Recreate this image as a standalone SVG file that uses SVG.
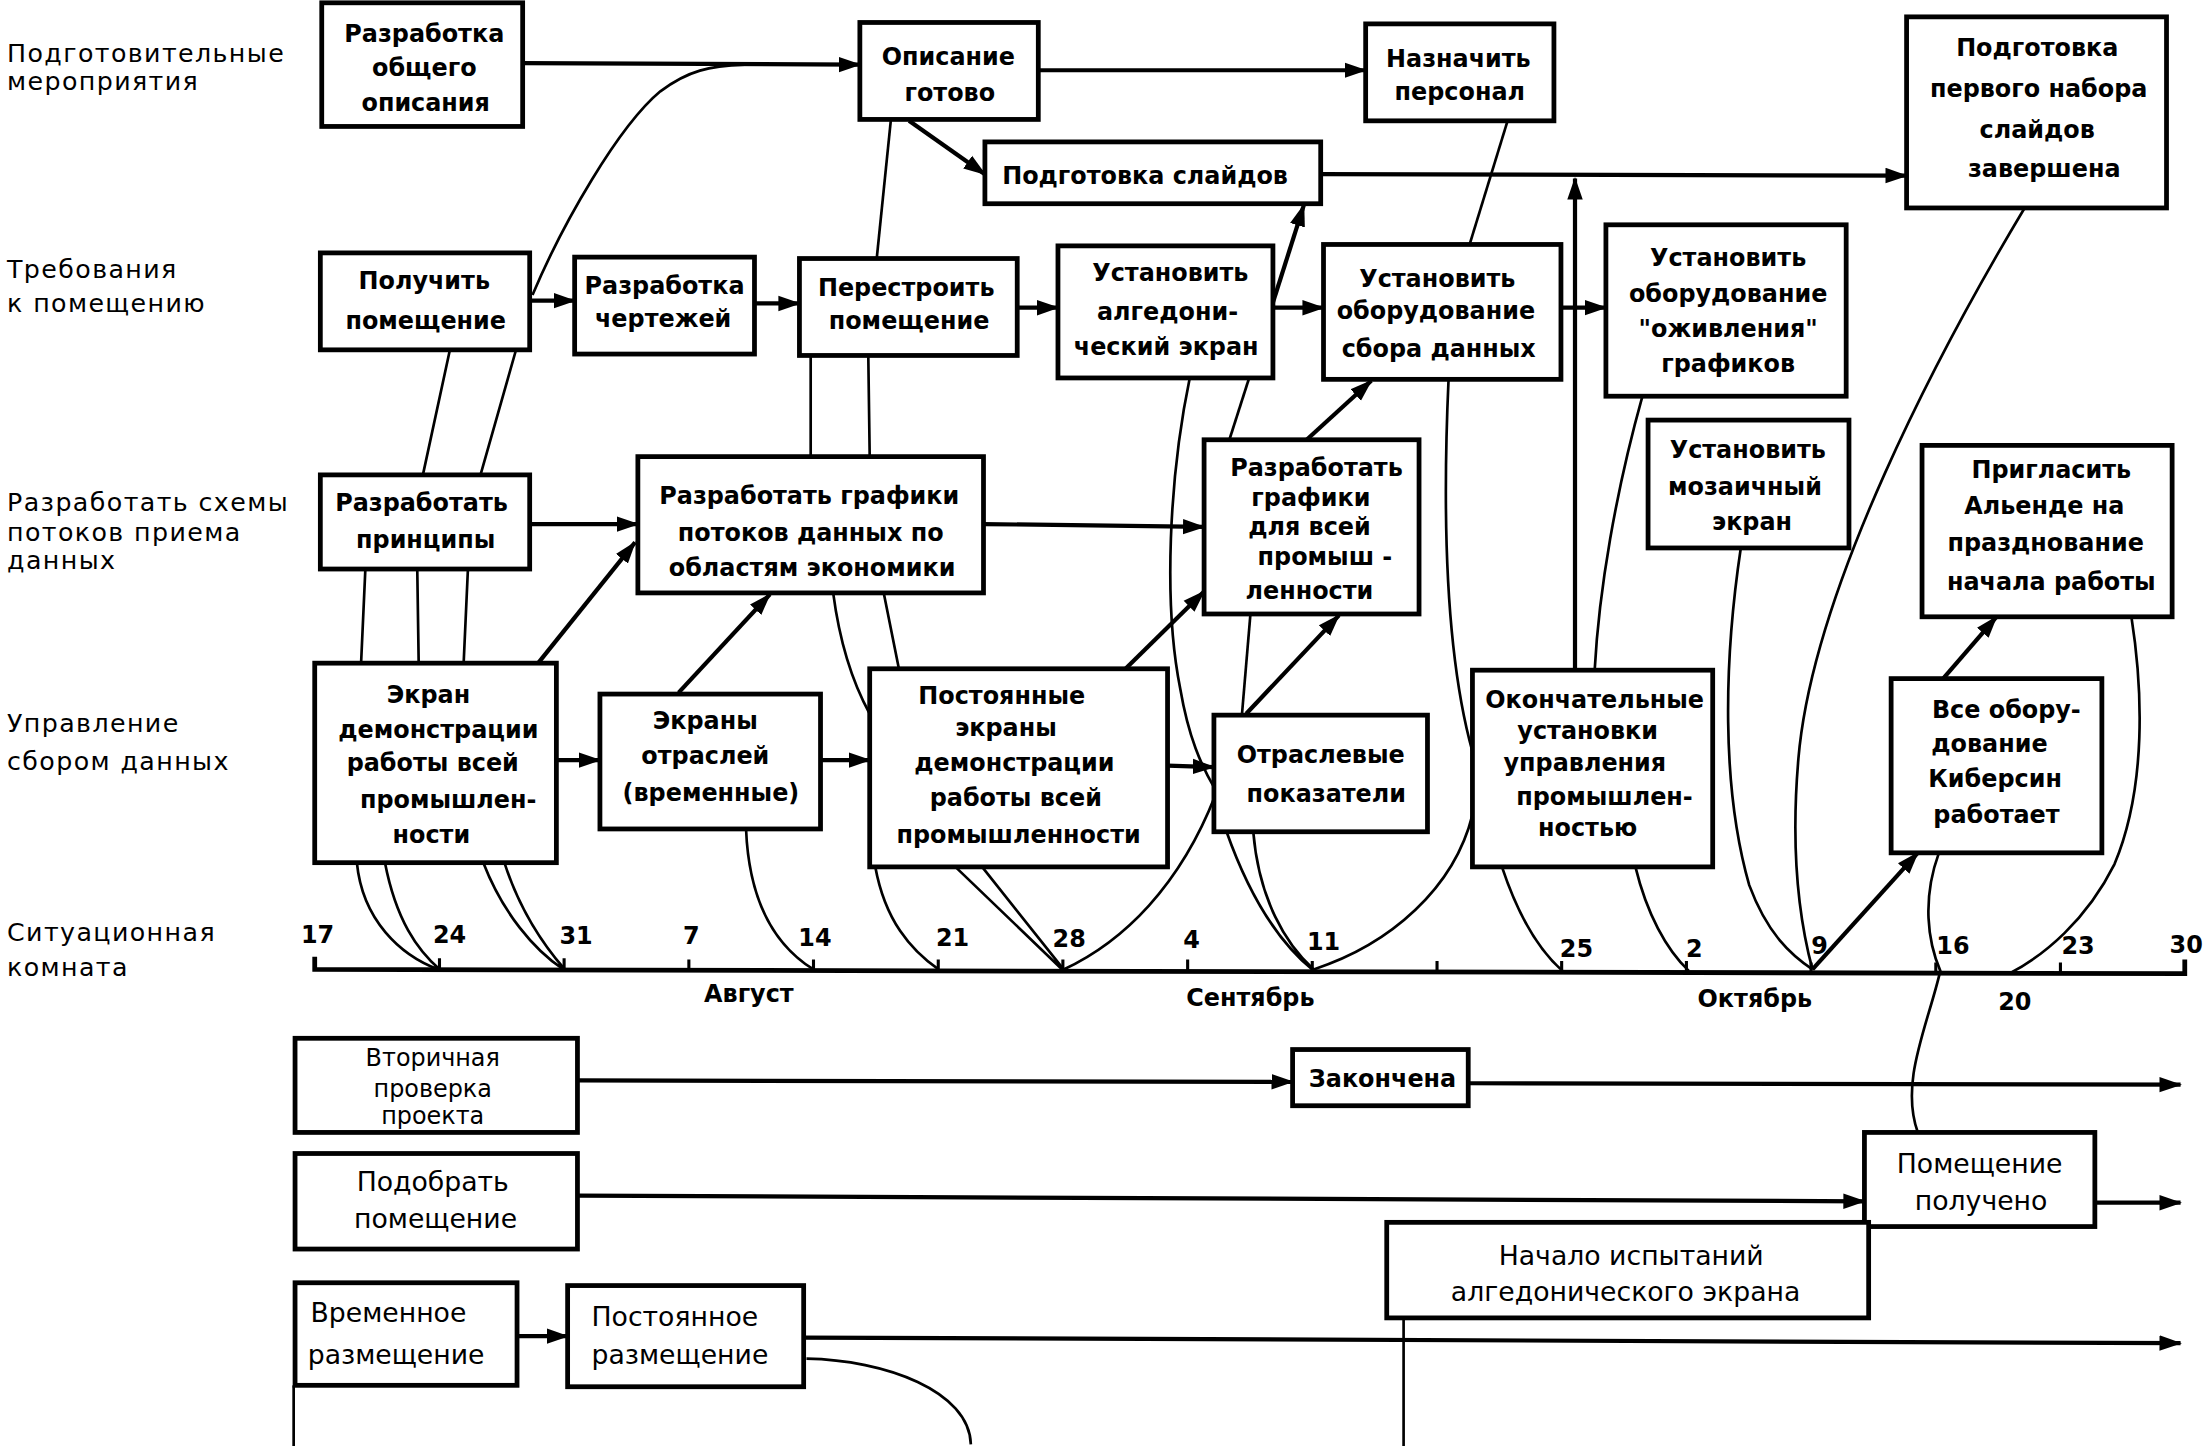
<svg xmlns="http://www.w3.org/2000/svg" width="2203" height="1446" viewBox="0 0 2203 1446">
<defs>
<style>
.bx{fill:#fff;stroke:#000;stroke-width:3.4}
.t{font-family:"DejaVu Sans","Liberation Sans",sans-serif;font-weight:bold;font-size:17px;text-anchor:middle;fill:#000}
.tn{font-family:"DejaVu Sans","Liberation Sans",sans-serif;font-size:19px;text-anchor:middle;fill:#000}
.tv{font-family:"DejaVu Sans","Liberation Sans",sans-serif;font-size:17px;text-anchor:middle;fill:#000}
.ts{font-family:"DejaVu Sans","Liberation Sans",sans-serif;font-size:19px;fill:#000}
.lab{font-family:"DejaVu Sans","Liberation Sans",sans-serif;font-size:18px;letter-spacing:1px;fill:#000}
.num{font-family:"DejaVu Sans","Liberation Sans",sans-serif;font-weight:bold;font-size:17px;text-anchor:middle;fill:#000}
.a{fill:none;stroke:#000;stroke-width:3;marker-end:url(#ah)}
.l{fill:none;stroke:#000;stroke-width:1.9}
.ax{fill:none;stroke:#000;stroke-width:3.4}
.tk{stroke:#000;stroke-width:2.2}
</style>
<marker id="ah" markerUnits="userSpaceOnUse" markerWidth="16" markerHeight="12" refX="15" refY="6" orient="auto"><path d="M0,0.5 L16,6 L0,11.5 z" fill="#000"/></marker>
</defs>
<rect width="2203" height="1446" fill="#fff"/>
<g transform="scale(1.405)">
<g id="labels">
<text class="lab" x="5" y="44">Подготовительные</text>
<text class="lab" x="5" y="64">мероприятия</text>
<text class="lab" x="5" y="198">Требования</text>
<text class="lab" x="5" y="222">к помещению</text>
<text class="lab" x="5" y="364">Разработать схемы</text>
<text class="lab" x="5" y="385">потоков приема</text>
<text class="lab" x="5" y="405">данных</text>
<text class="lab" x="5" y="521">Управление</text>
<text class="lab" x="5" y="548">сбором данных</text>
<text class="lab" x="5" y="670">Ситуационная</text>
<text class="lab" x="5" y="695">комната</text>
</g>
<g id="timeline">
<path class="ax" d="M224,681 L224,690 L1555,693 L1555,683"/>
<path class="tk" d="M312.8,682 V690.2 M401.5,682 V690.4 M490.3,683 V690.6 M579,683 V690.8 M667.8,683 V691 M756.5,683 V691.2 M845.3,683 V691.4 M934,684 V691.6 M1022.8,684 V691.8 M1111.5,684 V692 M1200.3,684 V692.2 M1289,685 V692.4 M1377.8,685 V692.6 M1466.5,685 V692.8"/>
<text class="num" x="226" y="671">17</text>
<text class="num" x="320" y="671">24</text>
<text class="num" x="410" y="672">31</text>
<text class="num" x="492" y="672">7</text>
<text class="num" x="580" y="673">14</text>
<text class="num" x="678" y="673">21</text>
<text class="num" x="761" y="674">28</text>
<text class="num" x="848" y="675">4</text>
<text class="num" x="942" y="676">11</text>
<text class="num" x="1122" y="681">25</text>
<text class="num" x="1206" y="681">2</text>
<text class="num" x="1295" y="679">9</text>
<text class="num" x="1390" y="679">16</text>
<text class="num" x="1479" y="679">23</text>
<text class="num" x="1556" y="678">30</text>
<text class="num" x="533" y="713">Август</text>
<text class="num" x="890" y="716">Сентябрь</text>
<text class="num" x="1249" y="717">Октябрь</text>
<text class="num" x="1434" y="719">20</text>
</g>
<g id="connectors">
<path class="a" d="M372,45 L612,46"/>
<path class="a" d="M739,50 L972,50"/>
<path class="a" d="M647,86 L701,124"/>
<path class="a" d="M940,124 L1357,125"/>
<path class="a" d="M377,214 L409,214"/>
<path class="a" d="M537,216 L569,216"/>
<path class="a" d="M724,219 L753,219"/>
<path class="a" d="M906,219 L942,219"/>
<path class="a" d="M1111,219 L1143,219"/>
<path class="a" d="M377,373 L454,373"/>
<path class="a" d="M700,373 L857,375"/>
<path class="a" d="M383,472 L452,386"/>
<path class="a" d="M483,493 L548,423"/>
<path class="a" d="M396,541 L427,541"/>
<path class="a" d="M584,541 L619,541"/>
<path class="a" d="M831,545 L864,546"/>
<path class="a" d="M800,477 L857,421"/>
<path class="a" d="M887,508 L953,438"/>
<path class="a" d="M930,313 L976,271"/>
<path class="a" d="M1121,477 L1121,127"/>
<path class="a" d="M895,250 L928,146"/>
<path class="a" d="M1383,483 L1421,439"/>
<path class="a" d="M1290,690 L1365,607"/>
<path class="a" d="M411,769 L920,770"/>
<path class="a" d="M1045,771 L1552,772"/>
<path class="a" d="M411,851 L1327,855"/>
<path class="a" d="M1491,856 L1552,856"/>
<path class="a" d="M368,951 L404,951"/>
<path class="a" d="M572,952 L1552,956"/>
<path class="l" d="M379,210 C400,160 440,90 470,65 C490,50 505,47 530,46"/>
<path class="l" d="M634,86 L624,184"/>
<path class="l" d="M1073,86 L1046,174"/>
<path class="l" d="M320,250 L301,338 M367,250 L342,338"/>
<path class="l" d="M260,406 L257,472 M297,406 L298,472 M333,406 L330,472"/>
<path class="l" d="M254,614 C258,655 285,680 312,690 M274,614 C282,655 297,676 313,690 M344,614 C358,650 380,676 401,690 M359,614 C370,648 388,674 402,690"/>
<path class="l" d="M577,253 L577,325 M618,253 L619,325"/>
<path class="l" d="M593,422 C598,460 608,488 619,508 M629,422 L640,477"/>
<path class="l" d="M531,590 C533,640 550,672 579,690"/>
<path class="l" d="M623,617 C630,655 648,676 668,690"/>
<path class="l" d="M680,617 L756,690 M699,617 L757,690"/>
<path class="l" d="M757,690 C800,670 840,630 865,566"/>
<path class="l" d="M847,268 C832,340 828,430 840,490 C846,525 855,545 865,562"/>
<path class="l" d="M875,313 L891,263"/>
<path class="l" d="M890,437 L884,508"/>
<path class="l" d="M873,592 C890,640 912,672 934,690 M892,592 C896,640 915,672 935,690"/>
<path class="l" d="M935,690 C990,672 1035,632 1048,580"/>
<path class="l" d="M1031,270 C1026,380 1030,470 1048,535"/>
<path class="l" d="M1169,282 C1150,350 1138,420 1135,477"/>
<path class="l" d="M1069,617 C1080,650 1095,676 1112,691 M1164,617 C1172,650 1186,676 1202,691"/>
<path class="l" d="M1441,148 C1380,250 1290,420 1280,540 C1274,610 1282,660 1290,690"/>
<path class="l" d="M1239,390 C1227,470 1225,560 1245,630 C1258,665 1275,680 1290,690"/>
<path class="l" d="M1380,607 C1368,640 1372,670 1381,691 C1372,730 1352,770 1365,806"/>
<path class="l" d="M1517,439 C1525,490 1528,560 1505,615 C1485,655 1455,680 1430,693"/>
<path class="l" d="M574,967 C630,968 690,990 691,1028"/>
<path class="l" d="M999,938 L999,1030"/>
<path class="l" d="M209,986 L209,1030"/>
</g>
<g id="n1"><rect class="bx" x="229" y="2" width="143" height="88"/><text class="t"><tspan x="302" y="30">Разработка</tspan><tspan x="302" y="54">общего</tspan><tspan x="303" y="79">описания</tspan></text></g>
<g id="n2"><rect class="bx" x="612" y="16" width="127" height="69"/><text class="t"><tspan x="675" y="46">Описание</tspan><tspan x="676" y="72">готово</tspan></text></g>
<g id="n3"><rect class="bx" x="972" y="17" width="134" height="69"/><text class="t"><tspan x="1038" y="48">Назначить</tspan><tspan x="1039" y="71">персонал</tspan></text></g>
<g id="n4"><rect class="bx" x="701" y="101" width="239" height="44"/><text class="t"><tspan x="815" y="131">Подготовка слайдов</tspan></text></g>
<g id="n5"><rect class="bx" x="1357" y="12" width="185" height="136"/><text class="t"><tspan x="1450" y="40">Подготовка</tspan><tspan x="1451" y="69">первого набора</tspan><tspan x="1450" y="98">слайдов</tspan><tspan x="1455" y="126">завершена</tspan></text></g>
<g id="n6"><rect class="bx" x="228" y="180" width="149" height="69"/><text class="t"><tspan x="302" y="206">Получить</tspan><tspan x="303" y="234">помещение</tspan></text></g>
<g id="n7"><rect class="bx" x="409" y="183" width="128" height="69"/><text class="t"><tspan x="473" y="209">Разработка</tspan><tspan x="472" y="233">чертежей</tspan></text></g>
<g id="n8"><rect class="bx" x="569" y="184" width="155" height="69"/><text class="t"><tspan x="645" y="211">Перестроить</tspan><tspan x="647" y="234">помещение</tspan></text></g>
<g id="n9"><rect class="bx" x="753" y="175" width="153" height="94"/><text class="t"><tspan x="833" y="200">Установить</tspan><tspan x="831" y="228">алгедони-</tspan><tspan x="830" y="253">ческий экран</tspan></text></g>
<g id="n10"><rect class="bx" x="942" y="174" width="169" height="96"/><text class="t"><tspan x="1023" y="204">Установить</tspan><tspan x="1022" y="227">оборудование</tspan><tspan x="1024" y="254">сбора данных</tspan></text></g>
<g id="n11"><rect class="bx" x="1143" y="160" width="171" height="122"/><text class="t"><tspan x="1230" y="189">Установить</tspan><tspan x="1230" y="215">оборудование</tspan><tspan x="1230" y="240">"оживления"</tspan><tspan x="1230" y="265">графиков</tspan></text></g>
<g id="n12"><rect class="bx" x="1173" y="299" width="143" height="91"/><text class="t"><tspan x="1244" y="326">Установить</tspan><tspan x="1242" y="352">мозаичный</tspan><tspan x="1247" y="377">экран</tspan></text></g>
<g id="n13"><rect class="bx" x="1368" y="317" width="178" height="122"/><text class="t"><tspan x="1460" y="340">Пригласить</tspan><tspan x="1455" y="366">Альенде на</tspan><tspan x="1456" y="392">празднование</tspan><tspan x="1460" y="420">начала работы</tspan></text></g>
<g id="n14"><rect class="bx" x="228" y="338" width="149" height="67"/><text class="t"><tspan x="300" y="364">Разработать</tspan><tspan x="303" y="390">принципы</tspan></text></g>
<g id="n15"><rect class="bx" x="454" y="325" width="246" height="97"/><text class="t"><tspan x="576" y="359">Разработать графики</tspan><tspan x="577" y="385">потоков данных по</tspan><tspan x="578" y="410">областям экономики</tspan></text></g>
<g id="n16"><rect class="bx" x="857" y="313" width="153" height="124"/><text class="t"><tspan x="937" y="339">Разработать</tspan><tspan x="933" y="360">графики</tspan><tspan x="932" y="381">для всей</tspan><tspan x="943" y="402">промыш -</tspan><tspan x="932" y="426">ленности</tspan></text></g>
<g id="n17"><rect class="bx" x="224" y="472" width="172" height="142"/><text class="t"><tspan x="305" y="500">Экран</tspan><tspan x="312" y="525">демонстрации</tspan><tspan x="308" y="549">работы всей</tspan><tspan x="319" y="575">промышлен-</tspan><tspan x="307" y="600">ности</tspan></text></g>
<g id="n18"><rect class="bx" x="427" y="494" width="157" height="96"/><text class="t"><tspan x="502" y="519">Экраны</tspan><tspan x="502" y="544">отраслей</tspan><tspan x="506" y="570">(временные)</tspan></text></g>
<g id="n19"><rect class="bx" x="619" y="476" width="212" height="141"/><text class="t"><tspan x="713" y="501">Постоянные</tspan><tspan x="716" y="524">экраны</tspan><tspan x="722" y="549">демонстрации</tspan><tspan x="723" y="574">работы всей</tspan><tspan x="725" y="600">промышленности</tspan></text></g>
<g id="n20"><rect class="bx" x="864" y="509" width="152" height="83"/><text class="t"><tspan x="940" y="543">Отраслевые</tspan><tspan x="944" y="571">показатели</tspan></text></g>
<g id="n21"><rect class="bx" x="1048" y="477" width="171" height="140"/><text class="t"><tspan x="1135" y="504">Окончательные</tspan><tspan x="1130" y="526">установки</tspan><tspan x="1128" y="549">управления</tspan><tspan x="1142" y="573">промышлен-</tspan><tspan x="1130" y="595">ностью</tspan></text></g>
<g id="n22"><rect class="bx" x="1346" y="483" width="150" height="124"/><text class="t"><tspan x="1428" y="511">Все обору-</tspan><tspan x="1416" y="535">дование</tspan><tspan x="1420" y="560">Киберсин</tspan><tspan x="1421" y="586">работает</tspan></text></g>
<g id="n23"><rect class="bx" x="210" y="739" width="201" height="67"/><text class="tv"><tspan x="308" y="759">Вторичная</tspan><tspan x="308" y="781">проверка</tspan><tspan x="308" y="800">проекта</tspan></text></g>
<g id="n24"><rect class="bx" x="920" y="747" width="125" height="40"/><text class="t"><tspan x="984" y="774">Закончена</tspan></text></g>
<g id="n25"><rect class="bx" x="210" y="821" width="201" height="68"/><text class="tn"><tspan x="308" y="848">Подобрать</tspan><tspan x="310" y="874">помещение</tspan></text></g>
<g id="n26"><rect class="bx" x="1327" y="806" width="164" height="67"/><text class="tn"><tspan x="1409" y="835">Помещение</tspan><tspan x="1410" y="861">получено</tspan></text></g>
<g id="n27"><rect class="bx" x="987" y="870" width="343" height="68"/><text class="tn"><tspan x="1161" y="900">Начало испытаний</tspan><tspan x="1157" y="926">алгедонического экрана</tspan></text></g>
<g id="n28"><rect class="bx" x="210" y="913" width="158" height="73"/><text class="ts"><tspan x="221" y="941">Временное</tspan><tspan x="219" y="971">размещение</tspan></text></g>
<g id="n29"><rect class="bx" x="404" y="915" width="168" height="72"/><text class="ts"><tspan x="421" y="944">Постоянное</tspan><tspan x="421" y="971">размещение</tspan></text></g>
</g>
</svg>
